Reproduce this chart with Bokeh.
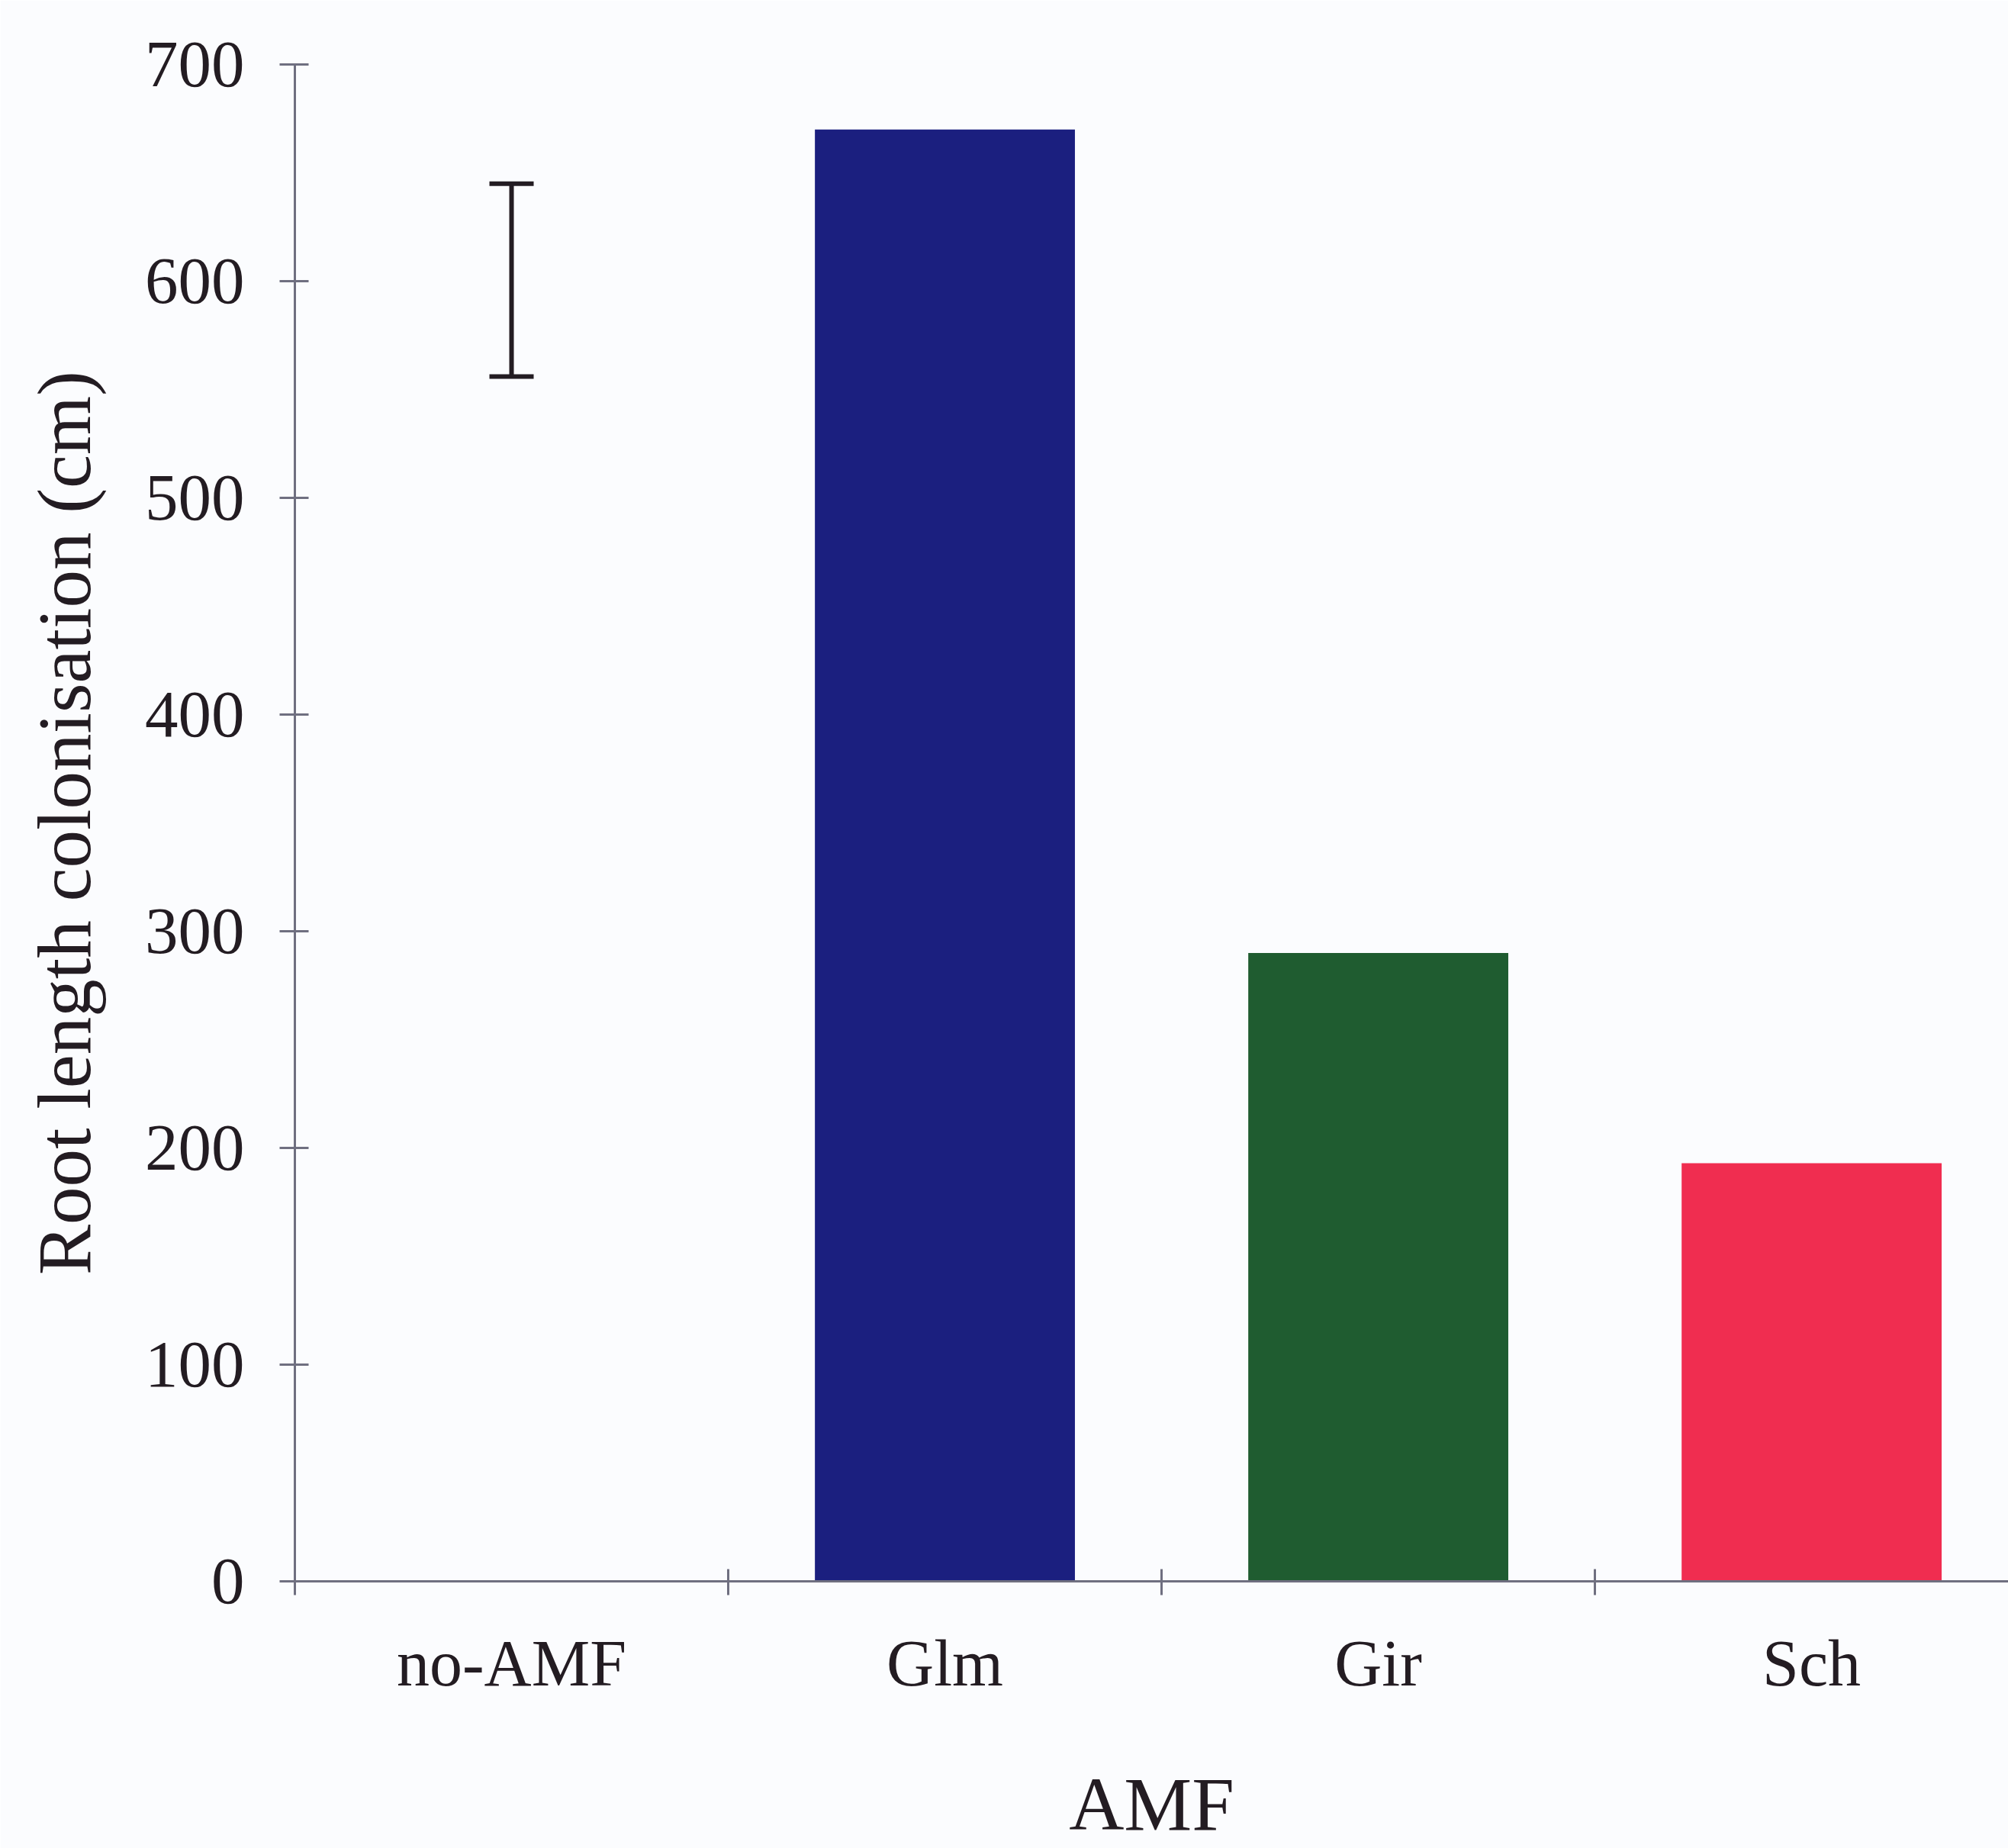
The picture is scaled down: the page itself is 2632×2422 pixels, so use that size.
from bokeh.plotting import figure
from bokeh.models import Range1d, FixedTicker, Whisker, ColumnDataSource, TeeHead
from bokeh.embed import file_html
from bokeh.resources import INLINE

# Root length colonisation per AMF treatment
categories = ["no-AMF", "Glm", "Gir", "Sch"]
colonisation_cm = [0, 670, 290, 193]
bar_colors = ["#ffffff", "#1b1f7f", "#1f5c30", "#f02d50"]

# LSD bar drawn over the no-AMF column
lsd_category = "no-AMF"
lsd_lower = 556
lsd_upper = 645

y_ticks = [0, 100, 200, 300, 400, 500, 600, 700]

SERIF = "Liberation Serif"
INK = "#231c22"
AXIS = "#6f6f80"
PAPER = "#fbfcfe"

x_pos = [i + 0.5 for i in range(len(categories))]
boundaries = [float(i) for i in range(len(categories))]

p = figure(
    width=2632, height=2422,
    output_backend="svg", toolbar_location=None,
    x_range=Range1d(0, 3.954), y_range=Range1d(0, 700),
    min_border_left=386, min_border_right=0,
    min_border_top=84, min_border_bottom=346,
)
p.background_fill_color = PAPER
p.border_fill_color = PAPER
p.outline_line_color = None
p.xgrid.visible = False
p.ygrid.visible = False

bars = ColumnDataSource(dict(x=x_pos, top=colonisation_cm, color=bar_colors, name=categories))
p.vbar(x="x", top="top", bottom=0, width=0.6, fill_color="color", line_color=None, source=bars)

lsd_x = x_pos[categories.index(lsd_category)]
lsd = ColumnDataSource(dict(x=[lsd_x], lower=[lsd_lower], upper=[lsd_upper]))
p.add_layout(Whisker(
    base="x", lower="lower", upper="upper", source=lsd, dimension="height",
    line_color=INK, line_width=6,
    upper_head=TeeHead(size=58, line_color=INK, line_width=6),
    lower_head=TeeHead(size=58, line_color=INK, line_width=6),
))

# y axis
ya = p.yaxis[0]
ya.ticker = FixedTicker(ticks=y_ticks)
ya.minor_tick_line_color = None
ya.major_tick_in = 18
ya.major_tick_out = 20
ya.major_tick_line_width = 3
ya.major_tick_line_color = AXIS
ya.axis_line_color = AXIS
ya.axis_line_width = 3
ya.major_label_text_font = SERIF
ya.major_label_text_font_size = "87px"
ya.major_label_text_color = INK
ya.major_label_standoff = 46
ya.axis_label = "Root length colonisation (cm)"
ya.axis_label_text_font = SERIF
ya.axis_label_text_font_style = "normal"
ya.axis_label_text_font_size = "99px"
ya.axis_label_text_color = INK
ya.axis_label_standoff = 48

# x axis: labels at column centres, ticks on column boundaries
xa = p.xaxis[0]
xa.ticker = FixedTicker(ticks=x_pos, minor_ticks=boundaries)
xa.major_label_overrides = {x: c for x, c in zip(x_pos, categories)}
xa.major_tick_line_color = None
xa.major_tick_in = 0
xa.major_tick_out = 0
xa.minor_tick_line_color = AXIS
xa.minor_tick_line_width = 3
xa.minor_tick_in = 16
xa.minor_tick_out = 18
xa.axis_line_color = AXIS
xa.axis_line_width = 3
xa.major_label_text_font = SERIF
xa.major_label_text_font_size = "86px"
xa.major_label_text_color = INK
xa.major_label_standoff = 41
xa.axis_label = "AMF"
xa.axis_label_text_font = SERIF
xa.axis_label_text_font_style = "normal"
xa.axis_label_text_font_size = "100px"
xa.axis_label_text_color = INK
xa.axis_label_standoff = 78

open("out.html", "w").write(file_html(p, INLINE))
